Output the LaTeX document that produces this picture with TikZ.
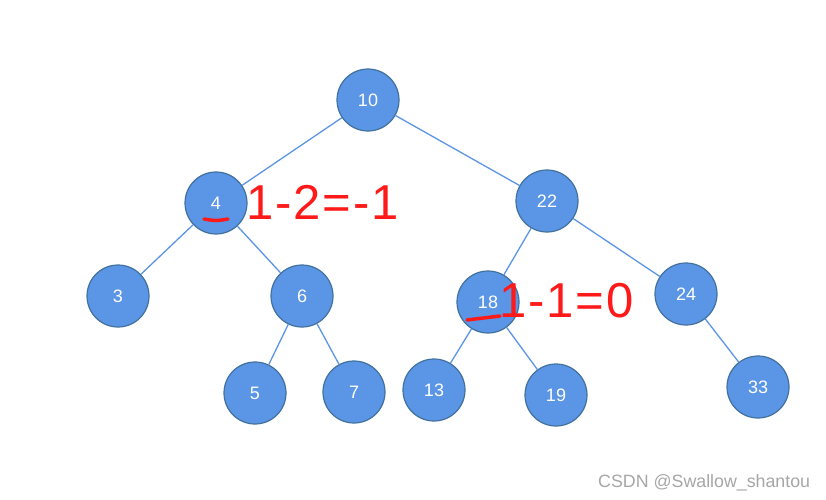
\documentclass[tikz,border=0pt]{standalone}
\usepackage{fontspec}
\setmainfont{Liberation Sans}
\definecolor{nodefill}{HTML}{5B95E5}
\definecolor{nodeline}{HTML}{41719C}
\definecolor{edgecol}{HTML}{5B95E5}
\definecolor{mred}{HTML}{FF1A1A}
\begin{document}
\begin{tikzpicture}[x=1pt,y=-1pt,
  tnode/.style={circle,draw=nodeline,fill=nodefill,line width=1.2pt,minimum size=62pt,inner sep=0pt,text=white,font=\fontsize{18}{18}\selectfont},
  tedge/.style={draw=edgecol,line width=1.3pt},
  eqtext/.style={text=mred,font=\fontsize{49}{49}\selectfont\addfontfeature{LetterSpace=4},inner sep=0pt,anchor=west}]
\useasboundingbox (0,0) rectangle (826,499);
\node[tnode] (n10) at (368,100) {10};
\node[tnode] (n4) at (216,203) {4};
\node[tnode] (n22) at (547,201) {22};
\node[tnode] (n3) at (118,296) {3};
\node[tnode] (n6) at (302,296) {6};
\node[tnode] (n18) at (488,302) {18};
\node[tnode] (n24) at (686,294) {24};
\node[tnode] (n5) at (255,393) {5};
\node[tnode] (n7) at (354,392) {7};
\node[tnode] (n13) at (434,390) {13};
\node[tnode] (n19) at (556,395) {19};
\node[tnode] (n33) at (758,387) {33};
\path[tedge] (n10) -- (n4);
\path[tedge] (n10) -- (n22);
\path[tedge] (n4) -- (n3);
\path[tedge] (n4) -- (n6);
\path[tedge] (n6) -- (n5);
\path[tedge] (n6) -- (n7);
\path[tedge] (n22) -- (n18);
\path[tedge] (n22) -- (n24);
\path[tedge] (n18) -- (n13);
\path[tedge] (n18) -- (n19);
\path[tedge] (n24) -- (n33);
\coordinate (u1a) at (204,219);
\coordinate (u1b) at (228,219);
\draw[mred,line width=3.5pt,line cap=round] (u1a) .. controls (216,221) .. (u1b);
\coordinate (u2a) at (467,320);
\coordinate (u2b) at (500,316);
\draw[mred,line width=3.5pt,line cap=round] (u2a) -- (u2b);
\node[eqtext] (eq1) at (246,202) {1-2=-1};
\node[eqtext] (eq2) at (499,301) {1-1=0};
\node[text=gray!70,font=\fontsize{17.8}{17.8}\selectfont,anchor=base west,inner sep=0pt] (wm) at (598,487) {CSDN @Swallow\_shantou};
\end{tikzpicture}
\end{document}
